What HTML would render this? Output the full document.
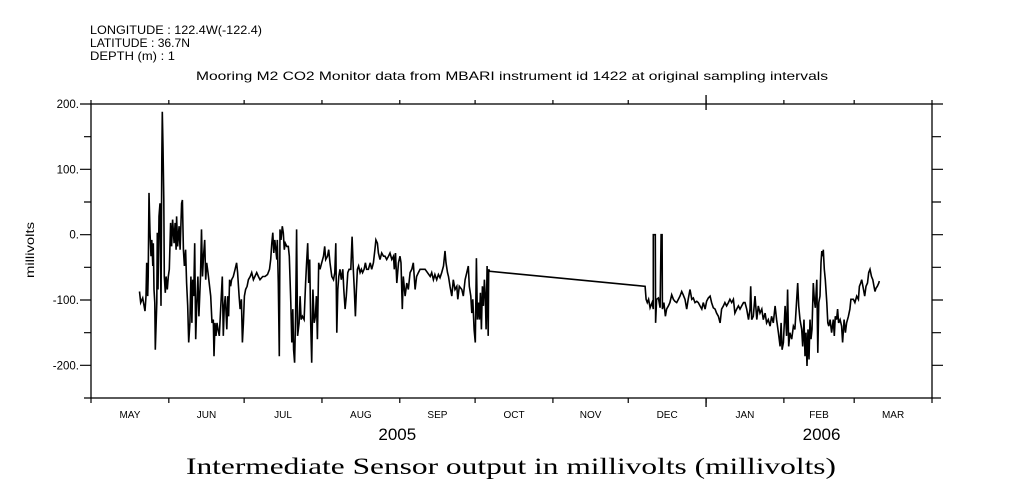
<!DOCTYPE html>
<html><head><meta charset="utf-8"><style>
html,body{margin:0;padding:0;background:#fff;}
svg{display:block;}
text{font-family:"Liberation Sans",sans-serif;fill:#000;}
</style></head><body>
<svg id="chart" width="1009" height="504" xmlns="http://www.w3.org/2000/svg">
<text x="90" y="34" font-size="12" textLength="172" lengthAdjust="spacingAndGlyphs">LONGITUDE : 122.4W(-122.4)</text>
<text x="90" y="47" font-size="12" textLength="100" lengthAdjust="spacingAndGlyphs">LATITUDE : 36.7N</text>
<text x="90" y="60" font-size="12" textLength="85" lengthAdjust="spacingAndGlyphs">DEPTH (m) : 1</text>
<text x="196" y="80" font-size="12" textLength="632" lengthAdjust="spacingAndGlyphs">Mooring M2 CO2 Monitor data from MBARI instrument id 1422 at original sampling intervals</text>
<text transform="translate(34,250) rotate(-90)" font-size="12" text-anchor="middle" textLength="56" lengthAdjust="spacingAndGlyphs">millivolts</text>
<text x="186" y="474" font-size="23" textLength="650" lengthAdjust="spacingAndGlyphs" style="font-family:'Liberation Serif',serif">Intermediate Sensor output in millivolts (millivolts)</text>
<g id="axes"></g>
<g id="series"></g>
</svg>
<script>
const days=[19.3,19.8,20.6,21.5,21.9,22.2,22.6,22.8,23.1,23.5,23.9,24.2,24.6,24.8,25.1,25.4,25.6,26.2,26.4,26.7,27.1,27.5,27.9,28.2,28.4,28.7,29.0,29.2,29.6,29.9,30.4,30.8,31.2,31.7,32.1,32.5,33.1,33.5,33.9,34.1,34.5,35.1,35.5,36.1,36.4,36.8,37.2,37.7,38.1,38.5,38.9,39.4,39.8,40.2,40.5,40.9,41.3,41.7,42.1,42.6,43.0,43.6,44.0,44.4,44.8,45.3,45.7,46.1,46.6,47.1,47.7,48.2,48.7,49.0,49.4,49.8,50.2,50.6,51.1,51.7,52.3,52.7,53.1,53.5,54.1,54.5,54.8,55.2,55.6,56.0,56.7,57.4,58.0,58.4,59.0,59.4,59.9,60.3,60.7,61.1,61.6,62.2,62.7,63.4,64.0,64.7,65.3,66.0,66.7,67.3,68.4,69.3,70.3,71.1,71.6,72.0,72.4,72.8,73.2,73.6,74.0,74.2,74.6,75.0,75.3,75.7,76.2,76.6,77.0,77.4,78.0,78.6,79.0,79.6,80.0,80.4,80.7,81.1,81.5,81.9,82.3,82.9,83.3,83.7,84.2,84.9,85.5,85.9,86.3,86.7,87.1,87.5,87.9,88.4,88.9,89.4,89.8,90.2,90.7,91.2,91.9,92.6,93.1,93.5,94.2,94.7,95.2,95.9,96.6,97.1,97.5,97.9,98.3,98.7,99.2,99.7,100.3,100.7,101.2,101.7,102.3,102.8,103.5,104.0,104.5,104.9,105.3,105.7,106.1,106.6,107.2,107.7,108.2,108.8,109.3,109.8,110.5,111.2,111.8,112.5,113.1,113.5,114.1,114.5,115.1,115.8,116.5,117.1,117.8,118.5,119.1,119.8,120.5,120.8,121.3,121.8,122.5,123.1,123.5,124.0,124.4,125.1,125.8,126.4,127.1,127.8,128.4,129.1,129.7,130.4,131.1,
133.1,135.1,135.7,136.4,137.0,137.7,138.4,139.0,139.7,140.4,141.0,141.4,142.0,142.4,143.0,143.7,144.3,145.0,145.7,146.1,146.7,147.7,148.3,149.0,149.7,150.3,150.7,151.3,151.7,152.1,152.6,153.1,153.5,153.9,154.3,154.7,155.1,155.5,155.9,156.3,156.7,157.1,157.4,157.8,158.2,158.4,158.8,
220.7,221.1,221.6,222.1,222.7,223.5,224.0,224.0,224.8,224.9,225.3,226.0,226.7,227.1,227.5,227.6,228.2,228.8,229.3,230.0,230.6,231.3,232.0,232.6,233.3,234.0,234.6,235.3,235.9,236.6,237.3,237.9,238.6,239.3,239.9,240.6,241.3,241.9,242.6,243.3,243.9,244.6,245.2,245.9,246.6,247.2,247.9,248.6,249.2,249.9,250.6,251.2,251.9,252.5,253.2,253.9,254.5,255.2,255.9,256.5,257.2,257.9,258.5,259.2,259.9,260.5,261.2,261.9,262.5,262.8,263.2,263.8,264.5,265.2,265.8,266.5,267.2,267.8,268.5,269.1,269.8,270.5,271.1,271.8,272.5,273.1,273.8,274.5,274.9,275.3,275.8,276.5,277.1,277.5,277.9,278.4,279.1,279.8,280.4,281.1,281.5,281.9,282.4,283.1,283.5,284.0,284.4,284.8,285.2,285.6,286.0,286.4,286.8,287.2,287.7,288.1,288.5,289.1,289.5,289.9,290.4,290.8,291.1,291.5,291.7,292.1,292.5,293.1,293.5,293.9,294.4,295.0,295.7,296.1,296.5,297.0,297.4,297.8,298.4,299.0,299.4,300.0,300.5,301.0,301.7,302.3,302.7,303.3,303.7,304.3,305.0,305.7,306.1,306.6,307.0,307.7,308.2,308.7,309.3,309.8,310.3,310.9,311.4,311.9,312.3,312.7,313.2,313.8,314.0];
const mv=[-87,-104,-97,-117,-94,-43,-94,-64,64,3,-33,-8,-48,-13,-84,-104,-176,-104,3,-84,28,48,-109,115,188,135,53,-64,-89,-64,-84,-64,-53,18,-18,23,-13,18,-23,28,-18,13,-23,48,53,-23,-48,-23,-74,-109,-165,-135,-64,-135,-69,-94,-13,-160,-109,-64,-125,-64,8,-64,-33,-8,-69,-43,-58,-74,-94,-135,-130,-186,-135,-155,-135,-145,-155,-109,-64,-155,-109,-94,-145,-94,-125,-69,-79,-69,-64,-53,-43,-58,-94,-114,-99,-165,-135,-94,-84,-79,-69,-64,-58,-69,-64,-58,-64,-69,-64,-64,-61,-53,-38,-13,3,-28,-8,-23,-38,-8,-74,-186,8,-8,13,3,-23,-13,-18,-18,-33,-104,-165,-114,-176,-196,-125,8,-155,-135,-94,-130,-125,-130,-74,-43,-13,-74,-38,-135,-196,-84,-135,-125,-94,-160,-43,-53,-43,-33,-18,-38,-33,-23,-43,-64,-69,-58,-13,-150,-84,-64,-53,-69,-53,-84,-114,-94,-58,-53,-53,-3,-53,-84,-125,-84,-53,-48,-58,-53,-58,-53,-43,-53,-53,-43,-53,-43,-23,-8,-13,-28,-38,-28,-33,-33,-38,-33,-28,-38,-33,-53,-28,-74,-43,-33,-43,-114,-64,-94,-74,-84,-58,-53,-43,-84,-64,-58,-53,
-53,-64,-58,-69,-61,-69,-61,-66,-58,-48,-25,-43,-58,-64,-79,-94,-69,-84,-79,-99,-79,-84,-94,-69,-58,-48,-79,-94,-120,-99,-145,-165,-36,-130,-104,-130,-89,-145,-79,-109,-69,-99,-145,-48,-155,-53,-56,
-79,-99,-104,-99,-112,-104,-114,0,0,-135,-99,-97,-112,0,0,-114,-104,-125,-114,-109,-104,-92,-99,-102,-104,-99,-94,-87,-92,-99,-114,-99,-84,-99,-97,-104,-102,-104,-109,-114,-104,-114,-102,-97,-94,-104,-112,-114,-120,-125,-135,-114,-109,-104,-109,-104,-99,-104,-99,-120,-114,-109,-114,-109,-104,-104,-114,-130,-114,-79,-130,-125,-94,-130,-109,-120,-114,-130,-120,-135,-130,-140,-125,-135,-109,-130,-150,-171,-135,-176,-165,-109,-155,-84,-171,-150,-160,-140,-145,-99,-74,-109,-130,-145,-171,-130,-186,-150,-201,-145,-191,-130,-160,-145,-74,-99,-112,-69,-181,-104,-94,-43,-25,-33,-23,-53,-69,-104,-135,-140,-130,-150,-130,-155,-125,-130,-114,-135,-130,-140,-165,-130,-150,-135,-125,-114,-99,-99,-99,-104,-94,-99,-79,-74,-69,-84,-94,-79,-74,-58,-53,-64,-69,-79,-87,-82,-79,-74,-71];
const yTicks=[200,100,0,-100,-200];
const yTickLabels=["200.","100.","0.","-100.","-200."];
const months=["MAY","JUN","JUL","AUG","SEP","OCT","NOV","DEC","JAN","FEB","MAR"];
const monthStart=[0,31,61,92,123,153,184,214,245,276,304,335];
const years=["2005","2006"];
const yearCenterDay=[122,291];

const X0=91,X1=932,Y0=104,Y1=398,DMAX=335,VMIN=-250,VMAX=200;
const xs=d=>X0+d/DMAX*(X1-X0);
const ys=v=>Y1-(v-VMIN)/(VMAX-VMIN)*(Y1-Y0);
const NS="http://www.w3.org/2000/svg";
const axes=document.getElementById('axes'),ser=document.getElementById('series');
function mk(tag,attrs,parent){const e=document.createElementNS(NS,tag);for(const k in attrs)e.setAttribute(k,attrs[k]);parent.appendChild(e);return e;}
const frame=mk('rect',{x:X0,y:Y0,width:X1-X0,height:Y1-Y0,fill:'none',stroke:'#000','stroke-width':1.3},axes);


for(let v=-250;v<=200;v+=50){
  const y=ys(v),major=(v%100===0);
  const t=mk('path',{d:`M${X0-(major?11:7)} ${y}H${X0} M${X1} ${y}H${X1+(major?11:9)}`,stroke:'#000','stroke-width':1.2},axes);
  
  
}
yTicks.forEach((v,i)=>{
  const t=mk('text',{x:X0-12,y:ys(v)+4,'font-size':11.5,'text-anchor':'end'},axes);
  t.textContent=yTickLabels[i];
  
  
});
monthStart.forEach((d,i)=>{
  const x=xs(d);
  const t=mk('path',{d:`M${x} ${Y0-4}V${Y0} M${x} ${Y1}V${Y1+5}`,stroke:'#000','stroke-width':1.2},axes);
  
  
  if(i<months.length){
    const l=mk('text',{x:(xs(d)+xs(monthStart[i+1]))/2,y:418,'font-size':10,'text-anchor':'middle'},axes);
    l.textContent=months[i];
    
    
  }
});
const yt=mk('path',{d:`M${xs(245)} ${Y0-9}V${Y0+6} M${xs(245)} ${Y1}V${Y1+9}`,stroke:'#000','stroke-width':1.3},axes);


years.forEach((y,i)=>{
  const l=mk('text',{x:xs(yearCenterDay[i]),y:440,'font-size':17,'text-anchor':'middle'},axes);
  l.textContent=y;
  
  
});
let d='';
days.forEach((t,i)=>{d+=(i?'L':'M')+xs(t).toFixed(1)+' '+ys(mv[i]).toFixed(1);});
const line=mk('path',{d:d,fill:'none',stroke:'#000','stroke-width':1.6,'stroke-linejoin':'miter'},ser);


</script>
</body></html>
